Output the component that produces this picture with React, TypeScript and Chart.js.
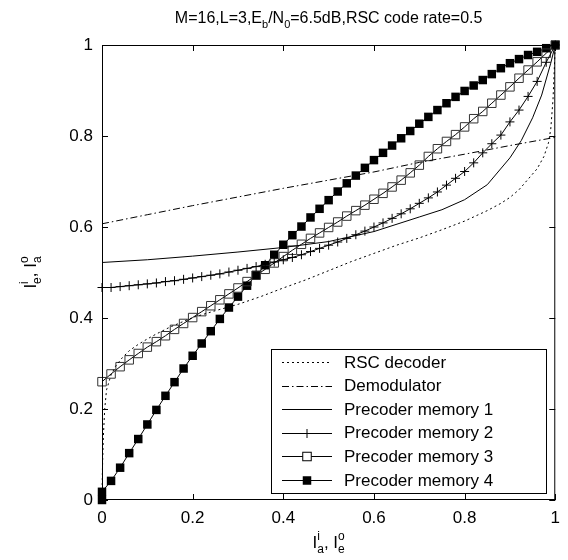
import React, { useEffect, useRef } from "react";
import { Chart, registerables } from "chart.js";

Chart.register(...registerables);

// ---------- data ----------
const xGrid = [
  0, 0.02, 0.04, 0.06, 0.08, 0.1, 0.12, 0.14, 0.16, 0.18,
  0.2, 0.22, 0.24, 0.26, 0.28, 0.3, 0.32, 0.34, 0.36, 0.38,
  0.4, 0.42, 0.44, 0.46, 0.48, 0.5, 0.52, 0.54, 0.56, 0.58,
  0.6, 0.62, 0.64, 0.66, 0.68, 0.7, 0.72, 0.74, 0.76, 0.78,
  0.8, 0.82, 0.84, 0.86, 0.88, 0.9, 0.92, 0.94, 0.96, 0.98, 1,
];

const rscX = [0, 0.001, 0.003, 0.006, 0.01, 0.02, 0.03, 0.045, 0.06, 0.08, 0.1, 0.12, 0.15, 0.2, 0.25, 0.3, 0.35, 0.4, 0.45, 0.5, 0.55, 0.6, 0.65, 0.7, 0.75, 0.8, 0.85, 0.88, 0.9, 0.92, 0.94, 0.96, 0.975, 0.985, 0.99, 0.995, 1];
const rscY = [0, 0.07, 0.14, 0.2, 0.242, 0.275, 0.294, 0.313, 0.328, 0.342, 0.354, 0.365, 0.38, 0.401, 0.416, 0.43, 0.447, 0.466, 0.484, 0.504, 0.524, 0.542, 0.56, 0.576, 0.594, 0.613, 0.636, 0.652, 0.665, 0.682, 0.705, 0.728, 0.755, 0.785, 0.815, 0.88, 1];

const demodX = [0, 0.1, 0.2, 0.3, 0.4, 0.5, 0.6, 0.7, 0.8, 0.9, 1];
const demodY = [0.607, 0.627, 0.647, 0.666, 0.685, 0.703, 0.721, 0.742, 0.76, 0.779, 0.797];

const mem1X = [0, 0.1, 0.2, 0.3, 0.4, 0.5, 0.6, 0.7, 0.75, 0.8, 0.85, 0.9, 0.925, 0.95, 0.97, 0.99, 1];
const mem1Y = [0.522, 0.528, 0.536, 0.545, 0.555, 0.568, 0.59, 0.622, 0.638, 0.66, 0.693, 0.752, 0.79, 0.84, 0.89, 0.96, 1];

const mem2Y = [
  0.467, 0.467, 0.469, 0.471, 0.473, 0.475, 0.477, 0.48, 0.482, 0.485,
  0.488, 0.491, 0.494, 0.497, 0.501, 0.505, 0.509, 0.513, 0.518, 0.523,
  0.528, 0.533, 0.539, 0.546, 0.553, 0.56, 0.567, 0.575, 0.583, 0.591,
  0.6, 0.609, 0.619, 0.629, 0.64, 0.652, 0.664, 0.677, 0.692, 0.707,
  0.722, 0.741, 0.763, 0.783, 0.802, 0.831, 0.857, 0.887, 0.92, 0.962, 1,
];

const mem3Y = [
  0.26, 0.277, 0.293, 0.308, 0.322, 0.336, 0.348, 0.361, 0.375, 0.388,
  0.401, 0.414, 0.427, 0.44, 0.453, 0.466, 0.48, 0.494, 0.507, 0.521,
  0.535, 0.549, 0.562, 0.575, 0.587, 0.599, 0.611, 0.624, 0.636, 0.648,
  0.661, 0.674, 0.688, 0.703, 0.719, 0.736, 0.755, 0.772, 0.788, 0.803,
  0.82, 0.838, 0.854, 0.872, 0.89, 0.908, 0.927, 0.945, 0.963, 0.982, 1,
];

const mem4X = [
  0, 0, 0.02, 0.04, 0.06, 0.08, 0.1, 0.12, 0.14, 0.16, 0.18,
  0.2, 0.22, 0.24, 0.26, 0.28, 0.3, 0.32, 0.34, 0.36, 0.38,
  0.4, 0.42, 0.44, 0.46, 0.48, 0.5, 0.52, 0.54, 0.56, 0.58,
  0.6, 0.62, 0.64, 0.66, 0.68, 0.7, 0.72, 0.74, 0.76, 0.78,
  0.8, 0.82, 0.84, 0.86, 0.88, 0.9, 0.92, 0.94, 0.96, 0.98, 1,
];
const mem4Y = [
  0, 0.018, 0.042, 0.071, 0.103, 0.134, 0.166, 0.198, 0.229, 0.259, 0.289,
  0.317, 0.344, 0.371, 0.398, 0.423, 0.447, 0.471, 0.494, 0.516, 0.539,
  0.561, 0.582, 0.601, 0.621, 0.64, 0.659, 0.678, 0.696, 0.713, 0.73,
  0.747, 0.763, 0.779, 0.795, 0.811, 0.827, 0.842, 0.857, 0.872, 0.886,
  0.899, 0.911, 0.923, 0.936, 0.949, 0.96, 0.969, 0.978, 0.985, 0.993, 1,
];

const seriesLabels = [
  "RSC decoder",
  "Demodulator",
  "Precoder memory 1",
  "Precoder memory 2",
  "Precoder memory 3",
  "Precoder memory 4",
];
const axisTicks = [0, 0.2, 0.4, 0.6, 0.8, 1];
const tickLabels = ["0", "0.2", "0.4", "0.6", "0.8", "1"];

const FONT = "'Liberation Sans', Arial, Helvetica, sans-serif";

const zip = (xs: number[], ys: number[]) => xs.map((x, i) => ({ x, y: ys[i] }));

const tickText = (v: number) => {
  const i = axisTicks.findIndex((t) => Math.abs(t - v) < 1e-6);
  return i >= 0 ? tickLabels[i] : "";
};

// styles for legend samples
const legendStyles = [
  { dash: [2, 3], marker: "none" },
  { dash: [7, 3, 1.5, 3], marker: "none" },
  { dash: [], marker: "none" },
  { dash: [], marker: "plus" },
  { dash: [], marker: "open" },
  { dash: [], marker: "filled" },
];

function drawMarker(ctx: CanvasRenderingContext2D, kind: string, x: number, y: number) {
  ctx.save();
  ctx.setLineDash([]);
  ctx.lineWidth = 1;
  ctx.strokeStyle = "#000";
  ctx.fillStyle = "#000";
  if (kind === "plus") {
    ctx.beginPath();
    ctx.moveTo(x - 4.5, y);
    ctx.lineTo(x + 4.5, y);
    ctx.moveTo(x, y - 4.5);
    ctx.lineTo(x, y + 4.5);
    ctx.stroke();
  } else if (kind === "open") {
    ctx.fillStyle = "#fff";
    ctx.fillRect(x - 4.25, y - 4.25, 8.5, 8.5);
    ctx.strokeRect(x - 4.25, y - 4.25, 8.5, 8.5);
  } else if (kind === "filled") {
    ctx.fillRect(x - 4.25, y - 4.25, 8.5, 8.5);
  }
  ctx.restore();
}

type Part = { t: string; sub?: string; sup?: string };

function drawRich(ctx: CanvasRenderingContext2D, parts: Part[], cx: number, baseline: number, size: number) {
  const small = Math.round(size * 0.7);
  let total = 0;
  for (const p of parts) {
    ctx.font = `${size}px ${FONT}`;
    total += ctx.measureText(p.t).width;
    ctx.font = `${small}px ${FONT}`;
    const a = p.sub ? ctx.measureText(p.sub).width : 0;
    const b = p.sup ? ctx.measureText(p.sup).width : 0;
    total += Math.max(a, b);
  }
  let x = cx - total / 2;
  ctx.textBaseline = "alphabetic";
  ctx.textAlign = "left";
  for (const p of parts) {
    ctx.font = `${size}px ${FONT}`;
    ctx.fillText(p.t, x, baseline);
    x += ctx.measureText(p.t).width;
    ctx.font = `${small}px ${FONT}`;
    let adv = 0;
    if (p.sub) {
      ctx.fillText(p.sub, x, baseline + size * 0.3);
      adv = Math.max(adv, ctx.measureText(p.sub).width);
    }
    if (p.sup) {
      ctx.fillText(p.sup, x, baseline - size * 0.45);
      adv = Math.max(adv, ctx.measureText(p.sup).width);
    }
    x += adv;
  }
}

const decorPlugin = {
  id: "decor",
  afterDraw(chart: any) {
    const ctx: CanvasRenderingContext2D = chart.ctx;
    const xs = chart.scales.x;
    const ys = chart.scales.y;
    const { left, right, top, bottom } = chart.chartArea;
    ctx.save();
    ctx.strokeStyle = "#000";
    ctx.lineWidth = 1;
    ctx.setLineDash([]);
    // frame
    ctx.strokeRect(left + 0.5, top + 0.5, right - left - 1, bottom - top - 1);
    // inward ticks on all four sides
    ctx.beginPath();
    for (const v of axisTicks) {
      const px = Math.round(xs.getPixelForValue(v)) + 0.5;
      ctx.moveTo(px, bottom);
      ctx.lineTo(px, bottom - 6);
      ctx.moveTo(px, top);
      ctx.lineTo(px, top + 6);
      const py = Math.round(ys.getPixelForValue(v)) + 0.5;
      ctx.moveTo(left, py);
      ctx.lineTo(left + 6, py);
      ctx.moveTo(right, py);
      ctx.lineTo(right - 6, py);
    }
    ctx.stroke();

    // title
    ctx.fillStyle = "#000";
    drawRich(
      ctx,
      [
        { t: "M=16,L=3,E", sub: "b" },
        { t: "/N", sub: "0" },
        { t: "=6.5dB,RSC code rate=0.5" },
      ],
      (left + right) / 2,
      23,
      16
    );

    // x axis label
    drawRich(ctx, [{ t: "I", sub: "a", sup: "i" }, { t: ", I", sub: "e", sup: "o" }], (left + right) / 2, 548, 17);

    // y axis label (rotated)
    ctx.save();
    ctx.translate(36, (top + bottom) / 2);
    ctx.rotate(-Math.PI / 2);
    drawRich(ctx, [{ t: "I", sub: "e", sup: "i" }, { t: ", I", sub: "a", sup: "o" }], 0, 0, 17);
    ctx.restore();

    // legend
    const bx = 271, by = 349, bw = 275, bh = 144;
    ctx.fillStyle = "#fff";
    ctx.fillRect(bx, by, bw, bh);
    ctx.strokeStyle = "#000";
    ctx.strokeRect(bx + 0.5, by + 0.5, bw, bh);
    ctx.font = `17px ${FONT}`;
    ctx.textBaseline = "middle";
    ctx.textAlign = "left";
    seriesLabels.forEach((lab, i) => {
      const y = 362 + i * 23.6;
      const st = legendStyles[i];
      ctx.save();
      ctx.setLineDash(st.dash);
      ctx.beginPath();
      ctx.moveTo(282, Math.round(y) + 0.5);
      ctx.lineTo(332, Math.round(y) + 0.5);
      ctx.stroke();
      ctx.restore();
      drawMarker(ctx, st.marker, 307, Math.round(y) + 0.5);
      ctx.fillStyle = "#000";
      ctx.fillText(lab, 344, y + 1);
    });
    ctx.restore();
  },
};

export default function App() {
  const ref = useRef<HTMLCanvasElement>(null);
  useEffect(() => {
    const common = {
      showLine: true,
      borderColor: "#000",
      borderWidth: 1,
      tension: 0,
      clip: false as any,
    };
    const chart = new Chart(ref.current!, {
      type: "scatter",
      data: {
        datasets: [
          { ...common, label: seriesLabels[0], data: zip(rscX, rscY), borderDash: [2, 3], pointRadius: 0 },
          { ...common, label: seriesLabels[1], data: zip(demodX, demodY), borderDash: [7, 3, 1.5, 3], pointRadius: 0 },
          { ...common, label: seriesLabels[2], data: zip(mem1X, mem1Y), pointRadius: 0 },
          {
            ...common,
            label: seriesLabels[3],
            data: zip(xGrid, mem2Y),
            pointStyle: "cross",
            pointRadius: 4.5,
            pointBorderColor: "#000",
            pointBorderWidth: 1,
          },
          {
            ...common,
            label: seriesLabels[4],
            data: zip(xGrid, mem3Y),
            pointStyle: "rect",
            pointRadius: 6,
            pointBackgroundColor: "rgba(0,0,0,0)",
            pointBorderColor: "#333",
            pointBorderWidth: 1,
          },
          {
            ...common,
            label: seriesLabels[5],
            data: zip(mem4X, mem4Y),
            pointStyle: "rect",
            pointRadius: 6,
            pointBackgroundColor: "#000",
            pointBorderColor: "#000",
            pointBorderWidth: 0,
          },
        ] as any,
      },
      options: {
        animation: false,
        responsive: false,
        devicePixelRatio: 1,
        events: [],
        layout: { padding: { top: 45, right: 10, left: 0, bottom: 0 } },
        plugins: { legend: { display: false }, title: { display: false }, tooltip: { enabled: false } },
        scales: {
          x: {
            type: "linear",
            min: 0,
            max: 1,
            afterFit: (s: any) => {
              s.height = 60;
            },
            afterBuildTicks: (s: any) => {
              s.ticks = axisTicks.map((v) => ({ value: v }));
            },
            grid: { display: false, drawTicks: false },
            border: { display: false },
            ticks: {
              padding: 8,
              color: "#000",
              font: { family: FONT, size: 17 },
              maxRotation: 0,
              autoSkip: false,
              callback: (v: any) => tickText(Number(v)),
            },
          },
          y: {
            type: "linear",
            min: 0,
            max: 1,
            afterFit: (s: any) => {
              s.width = 102;
            },
            afterBuildTicks: (s: any) => {
              s.ticks = axisTicks.map((v) => ({ value: v }));
            },
            grid: { display: false, drawTicks: false },
            border: { display: false },
            ticks: {
              padding: 9,
              color: "#000",
              font: { family: FONT, size: 17 },
              autoSkip: false,
              callback: (v: any) => tickText(Number(v)),
            },
          },
        },
      } as any,
      plugins: [decorPlugin],
    });
    return () => chart.destroy();
  }, []);
  return (
    <div style={{ position: "fixed", left: 0, top: 0, width: 568, height: 560, background: "#fff" }}>
      <canvas ref={ref} width={568} height={560} style={{ display: "block" }} />
    </div>
  );
}
